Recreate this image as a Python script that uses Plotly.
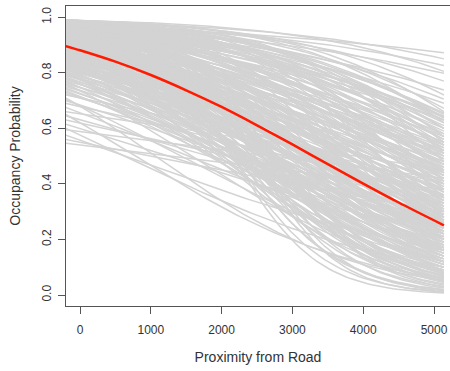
import numpy as np
import plotly.graph_objects as go

# Distance (x) span of the posterior curves
x_start = -200
x_end = 5140

# Each grey posterior curve: occupancy probability read at the left edge and at the right end
occ_start = [
    # upper curves that stay high
    0.970, 0.985, 0.975, 0.990, 0.965, 0.980, 0.960, 0.988, 0.972, 0.955,
    0.983, 0.968, 0.950, 0.978, 0.945,
    # low-left curves
    0.546, 0.560, 0.575, 0.595, 0.600, 0.615, 0.630, 0.645, 0.650, 0.660,
    0.675, 0.690, 0.705, 0.710, 0.720, 0.700,
    # steep curves reaching the bottom right
    0.980, 0.970, 0.985, 0.960, 0.990, 0.975, 0.950, 0.965, 0.980, 0.940,
    0.970, 0.930, 0.985, 0.955, 0.920, 0.960, 0.975, 0.900, 0.945, 0.910,
    # main band
    0.990, 0.985, 0.980, 0.990, 0.975, 0.985, 0.970, 0.980, 0.990, 0.965,
    0.975, 0.960, 0.985, 0.970, 0.955, 0.980, 0.965, 0.950, 0.975, 0.960,
    0.945, 0.970, 0.955, 0.940, 0.965, 0.950, 0.935, 0.960, 0.945, 0.930,
    0.955, 0.940, 0.925, 0.950, 0.935, 0.920, 0.945, 0.930, 0.915, 0.940,
    0.925, 0.910, 0.935, 0.920, 0.905, 0.930, 0.915, 0.900, 0.925, 0.910,
    0.895, 0.920, 0.905, 0.890, 0.915, 0.900, 0.885, 0.910, 0.895, 0.880,
    0.905, 0.890, 0.875, 0.900, 0.885, 0.870, 0.895, 0.880, 0.865, 0.890,
    0.875, 0.860, 0.885, 0.870, 0.855, 0.880, 0.865, 0.850, 0.875, 0.860,
    0.845, 0.870, 0.855, 0.840, 0.865, 0.850, 0.835, 0.860, 0.845, 0.830,
    0.855, 0.840, 0.825, 0.850, 0.835, 0.820, 0.845, 0.830, 0.815, 0.840,
    0.810, 0.825, 0.805, 0.820, 0.800, 0.815, 0.795, 0.810, 0.790, 0.800,
    0.785, 0.775, 0.795, 0.765, 0.780, 0.755, 0.770, 0.745, 0.760, 0.735,
    0.990, 0.980, 0.970, 0.985, 0.960, 0.975, 0.950, 0.990, 0.965, 0.940,
    0.930, 0.955, 0.920, 0.945, 0.910, 0.935, 0.900, 0.925, 0.890, 0.915,
    0.980, 0.965, 0.960, 0.945, 0.940, 0.925, 0.920, 0.905, 0.900, 0.885,
    0.990, 0.980, 0.985, 0.965, 0.960, 0.955, 0.935, 0.930, 0.915, 0.910,
    0.750, 0.740, 0.730, 0.725, 0.760, 0.770, 0.780, 0.790, 0.800, 0.810,
    0.820, 0.830, 0.840, 0.850, 0.860, 0.870, 0.880, 0.890, 0.900, 0.875,
    # lower part of the band on the right
    0.950, 0.930, 0.910, 0.890, 0.870, 0.970, 0.940, 0.920, 0.900, 0.880,
    0.860, 0.840, 0.960, 0.930, 0.910, 0.890, 0.985, 0.975, 0.955, 0.935,
    0.820, 0.800, 0.780, 0.915, 0.895, 0.945, 0.925, 0.905, 0.865, 0.845,
]
occ_end = [
    0.872, 0.850, 0.826, 0.805, 0.798, 0.770, 0.738, 0.720, 0.705, 0.690,
    0.672, 0.655, 0.645, 0.637, 0.630,
    0.380, 0.300, 0.160, 0.420, 0.100, 0.220, 0.330, 0.270, 0.060, 0.450,
    0.180, 0.360, 0.120, 0.052, 0.400, 0.250,
    0.007, 0.012, 0.015, 0.020, 0.010, 0.025, 0.030, 0.018, 0.035, 0.040,
    0.045, 0.050, 0.030, 0.055, 0.060, 0.065, 0.050, 0.070, 0.075, 0.085,
    0.620, 0.550, 0.640, 0.480, 0.580, 0.410, 0.600, 0.520, 0.350, 0.630,
    0.450, 0.570, 0.300, 0.500, 0.610, 0.380, 0.530, 0.590, 0.270, 0.460,
    0.560, 0.330, 0.490, 0.540, 0.220, 0.430, 0.580, 0.370, 0.510, 0.470,
    0.180, 0.400, 0.550, 0.290, 0.440, 0.520, 0.250, 0.390, 0.500, 0.310,
    0.360, 0.480, 0.140, 0.420, 0.530, 0.260, 0.340, 0.450, 0.200, 0.380,
    0.490, 0.110, 0.310, 0.410, 0.230, 0.350, 0.440, 0.160, 0.280, 0.390,
    0.080, 0.320, 0.460, 0.210, 0.270, 0.370, 0.130, 0.300, 0.420, 0.190,
    0.240, 0.350, 0.100, 0.290, 0.400, 0.150, 0.260, 0.330, 0.070, 0.220,
    0.380, 0.120, 0.280, 0.310, 0.170, 0.230, 0.360, 0.090, 0.200, 0.270,
    0.060, 0.250, 0.340, 0.130, 0.210, 0.300, 0.110, 0.180, 0.260, 0.080,
    0.320, 0.150, 0.240, 0.190, 0.290, 0.120, 0.220, 0.170, 0.270, 0.100,
    0.200, 0.250, 0.140, 0.230, 0.160, 0.210, 0.120, 0.190, 0.090, 0.170,
    0.660, 0.600, 0.650, 0.570, 0.620, 0.540, 0.640, 0.510, 0.560, 0.600,
    0.630, 0.470, 0.570, 0.420, 0.550, 0.490, 0.520, 0.450, 0.500, 0.430,
    0.440, 0.400, 0.340, 0.320, 0.280, 0.240, 0.300, 0.270, 0.250, 0.230,
    0.280, 0.240, 0.200, 0.170, 0.140, 0.120, 0.100, 0.160, 0.130, 0.060,
    0.280, 0.240, 0.210, 0.260, 0.320, 0.360, 0.310, 0.380, 0.350, 0.410,
    0.440, 0.400, 0.460, 0.430, 0.480, 0.450, 0.510, 0.470, 0.540, 0.520,
    0.090, 0.150, 0.210, 0.270, 0.110, 0.060, 0.190, 0.240, 0.140, 0.170,
    0.290, 0.130, 0.220, 0.080, 0.310, 0.050, 0.160, 0.120, 0.260, 0.200,
    0.230, 0.180, 0.140, 0.100, 0.330, 0.280, 0.070, 0.120, 0.160, 0.200,
]

# Posterior mean curve (red), read at these distances
mean_x = [-200, 0, 500, 1000, 1500, 2000, 2500, 3000, 3500, 4000, 4500, 5140]
mean_occ = [0.896, 0.881, 0.840, 0.792, 0.737, 0.677, 0.611, 0.542, 0.471, 0.401, 0.333, 0.251]

x_ticks = [0, 1000, 2000, 3000, 4000, 5000]
y_ticks = [0.0, 0.2, 0.4, 0.6, 0.8, 1.0]
y_tick_labels = ["0.0", "0.2", "0.4", "0.6", "0.8", "1.0"]


def logit(p):
    return np.log(p / (1 - p))


xs = np.linspace(x_start, x_end, 90)
gx, gy = [], []
for a, b in zip(occ_start, occ_end):
    la, lb = logit(a), logit(b)
    eta = la + (lb - la) * (xs - x_start) / (x_end - x_start)
    gx.extend(xs.tolist() + [None])
    gy.extend((1 / (1 + np.exp(-eta))).tolist() + [None])

fig = go.Figure()
fig.add_trace(go.Scatter(x=gx, y=gy, mode="lines",
                         line=dict(color="#d3d3d3", width=1.5),
                         hoverinfo="skip", showlegend=False))
fig.add_trace(go.Scatter(x=mean_x, y=mean_occ, mode="lines",
                         line=dict(color="#ff1a00", width=2.5, shape="spline", smoothing=0.8),
                         showlegend=False))

axis_col = "#555555"
fig.update_layout(
    width=450, height=371,
    margin=dict(l=66, r=0, t=6, b=65),
    paper_bgcolor="white", plot_bgcolor="white",
    font=dict(family="Liberation Sans, Arial, sans-serif", size=12, color="#333333"),
    xaxis=dict(range=[-198, 5226], tickvals=x_ticks, ticks="outside", ticklen=7,
               tickcolor=axis_col, showline=True, mirror=True, linecolor=axis_col,
               linewidth=1, showgrid=False, zeroline=False, ticklabelstandoff=6,
               title=dict(text="Proximity from Road", standoff=15)),
    yaxis=dict(range=[-0.0396, 1.0404], tickvals=y_ticks, ticktext=y_tick_labels,
               tickangle=-90, ticks="outside", ticklen=7, tickcolor=axis_col,
               showline=True, linecolor=axis_col, linewidth=1, showgrid=False,
               zeroline=False, ticklabelstandoff=2,
               title=dict(text="Occupancy Probability", standoff=16)),
)

fig.write_html("out.html")
